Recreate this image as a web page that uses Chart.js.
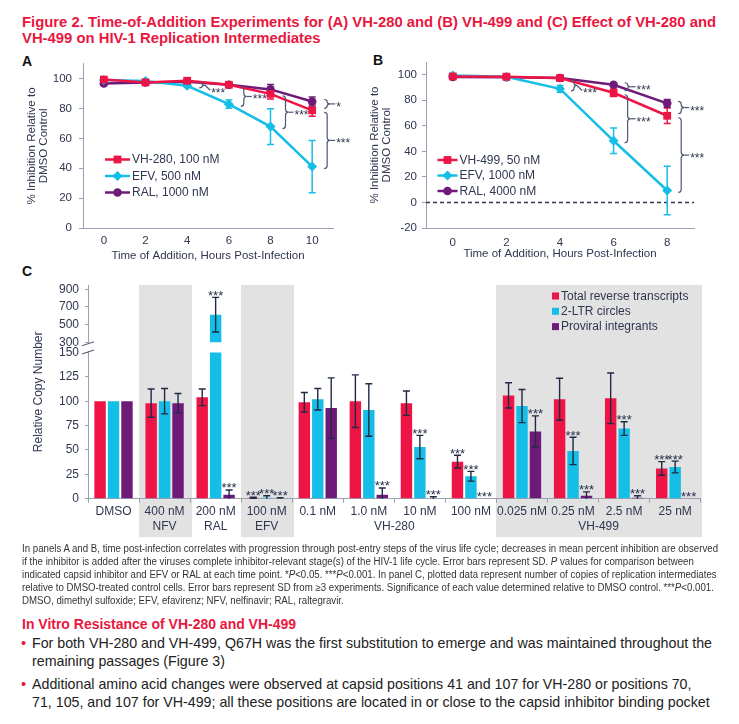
<!DOCTYPE html>
<html><head><meta charset="utf-8">
<script src="https://cdn.jsdelivr.net/npm/chart.js@4/dist/chart.umd.min.js"></script>
<style>
html,body{margin:0;padding:0;background:#fff;}
body{width:739px;height:724px;position:relative;overflow:hidden;font-family:'Liberation Sans',Arial,sans-serif;}
.abs{position:absolute;white-space:nowrap;}
.ln{display:inline-block;transform-origin:0 50%;}
.ttl{left:22px;color:#e8173f;font-weight:bold;font-size:14.5px;line-height:16.3px;}
.plabel{font-weight:bold;font-size:14px;line-height:16px;color:#111;}
.narrow{font-family:'Liberation Sans Narrow','Arial Narrow','Liberation Sans',Arial,sans-serif;}
.foot{left:22px;font-size:10px;line-height:13px;color:#333;}
.h2{left:22px;font-size:14.5px;line-height:17px;font-weight:bold;color:#e8173f;}
.bul{left:32px;font-size:14.5px;line-height:17px;color:#222;}
.dot{left:21px;font-size:14.5px;line-height:17px;color:#e8173f;}
.cbox{position:absolute;}
</style></head><body>

<div class="abs ttl" style="top:13.8px"><span class="ln tl">Figure 2. Time-of-Addition Experiments for (A) VH-280 and (B) VH-499 and (C) Effect of VH-280 and</span></div>
<div class="abs ttl" style="top:30.1px"><span class="ln tl">VH-499 on HIV-1 Replication Intermediates</span></div>

<div class="abs plabel" style="left:22px;top:53px">A</div>
<div class="abs plabel" style="left:373px;top:52px">B</div>
<div class="abs plabel" style="left:22px;top:263px">C</div>

<div class="cbox" style="left:0;top:50px;width:360px;height:215px"><canvas id="cA" width="360" height="215"></canvas></div>
<div class="cbox" style="left:360px;top:50px;width:379px;height:215px"><canvas id="cB" width="379" height="215"></canvas></div>
<div class="cbox" style="left:0;top:270px;width:739px;height:275px"><canvas id="cC" width="739" height="275"></canvas></div>

<div class="abs foot narrow" style="top:541.6px"><span class="ln fn">In panels A and B, time post-infection correlates with progression through post-entry steps of the virus life cycle; decreases in mean percent inhibition are observed</span></div>
<div class="abs foot narrow" style="top:554.6px"><span class="ln fn">if the inhibitor is added after the viruses complete inhibitor-relevant stage(s) of the HIV-1 life cycle. Error bars represent SD. <i>P</i> values for comparison between</span></div>
<div class="abs foot narrow" style="top:567.6px"><span class="ln fn">indicated capsid inhibitor and EFV or RAL at each time point. *<i>P</i>&lt;0.05. ***<i>P</i>&lt;0.001. In panel C, plotted data represent number of copies of replication intermediates</span></div>
<div class="abs foot narrow" style="top:580.6px"><span class="ln fn">relative to DMSO-treated control cells. Error bars represent SD from ≥3 experiments. Significance of each value determined relative to DMSO control. ***<i>P</i>&lt;0.001.</span></div>
<div class="abs foot narrow" style="top:593.6px"><span class="ln fn">DMSO, dimethyl sulfoxide; EFV, efavirenz; NFV, nelfinavir; RAL, raltegravir.</span></div>

<div class="abs h2 narrow" style="top:616px"><span class="ln hd">In Vitro Resistance of VH-280 and VH-499</span></div>
<div class="abs dot" style="top:635.3px">•</div>
<div class="abs bul narrow" style="top:635.3px"><span class="ln bl">For both VH-280 and VH-499, Q67H was the first substitution to emerge and was maintained throughout the</span></div>
<div class="abs bul narrow" style="top:653.3px"><span class="ln bl">remaining passages (Figure 3)</span></div>
<div class="abs dot" style="top:676.3px">•</div>
<div class="abs bul narrow" style="top:676.3px"><span class="ln bl">Additional amino acid changes were observed at capsid positions 41 and 107 for VH-280 or positions 70,</span></div>
<div class="abs bul narrow" style="top:694.3px"><span class="ln bl">71, 105, and 107 for VH-499; all these positions are located in or close to the capsid inhibitor binding pocket</span></div>

<script>
// ---------------- DATA ----------------
// Panel A: % inhibition vs time of addition (h)
const timesA = [0, 2, 4, 6, 8, 10];
const vh280A = [99.5, 97.6, 98.7, 96.0, 89.9, 78.9];
const vh280A_sd = [1, 1, 1, 1.2, 3.5, 4];
const efvA = [99.2, 98.5, 95.3, 83.0, 68.0, 41.2];
const efvA_sd = [1, 1, 1, 2.8, 12, 17.5];
const ralA = [96.9, 97.6, 98.0, 96.0, 92.9, 84.8];
const ralA_sd = [1, 1, 1, 1, 3.3, 3];
const xTicksA = [0, 2, 4, 6, 8, 10];
const yTicksA = [0, 20, 40, 60, 80, 100];
// significance: [time, compared dataset index, label, dropped label]
const sigA = [[4, 1, '***', true], [6, 1, '***'], [8, 1, '***'], [10, 2, '*'], [10, 1, '***']];

// Panel B
const timesB = [0, 2, 4, 6, 8];
const vh499B = [98.7, 98.5, 97.4, 85.9, 67.9];
const vh499B_sd = [1, 1, 1.5, 3, 6];
const efvB = [99.5, 98.5, 89.0, 48.3, 9.4];
const efvB_sd = [1, 1, 2.6, 10, 19];
const ralB = [98.2, 98.0, 97.5, 92.2, 77.6];
const ralB_sd = [1, 1, 1, 1.5, 3];
const xTicksB = [0, 2, 4, 6, 8];
const yTicksB = [-20, 0, 20, 40, 60, 80, 100];
const sigB = [[4, 1, '***', true], [6, 2, '***'], [6, 1, '***'], [8, 2, '***'], [8, 1, '***']];

// Panel C: relative copy number
const groupsC = ['DMSO', ['400 nM', 'NFV'], ['200 nM', 'RAL'], ['100 nM', 'EFV'], '0.1 nM', '1.0 nM', '10 nM', '100 nM', '0.025 nM', '0.25 nM', '2.5 nM', '25 nM'];
const totalRT = [100, 98, 104, 1, 99, 100, 98, 38, 106, 102, 103, 31];
const totalRT_sd = [0, 14.5, 8.5, 0.5, 10, 27, 12.5, 6.5, 13, 21.5, 26, 7];
const ltr2 = [100, 100, 613, 1, 102, 91, 53, 23, 95, 49, 72, 32.5];
const ltr2_sd = [0, 13, 196, 2, 11, 27, 12, 5, 17, 14, 7, 6];
const proviral = [100, 98, 4, 0.5, 93, 4, 0.5, 0, 69, 3, 1, 0];
const proviral_sd = [0, 10, 5, 0.5, 31, 7, 1.5, 0, 16, 4, 2, 0];
const totalRT_sig = ['', '', '', '***', '', '', '', '***', '', '', '', '***'];
const ltr2_sig = ['', '', '***', '***', '', '', '***', '***', '', '***', '***', '***'];
const proviral_sig = ['', '', '***', '***', '', '***', '***', '***', '***', '***', '***', '***'];
const yTicksC = [0, 25, 50, 75, 100, 125, 150, 300, 500, 700, 900];
const shadedGroups = [1, 3, 8, 9, 10, 11];
const groupTitles = [['VH-280', 4, 7], ['VH-499', 8, 11]];

// ---------------- STYLE ----------------
const RED = '#ee1446', CYAN = '#14bee6', PURPLE = '#6e1a78';
const AXIS = '#9aa2b2', TXT = '#2f3650', DARK = '#1f2a44', BRK = '#4d5874';
const FONT = "'Liberation Sans', Arial, sans-serif";
Chart.defaults.font.family = FONT;
Chart.defaults.font.size = 11.5;
Chart.defaults.color = TXT;
Chart.defaults.animation = false;
Chart.defaults.events = [];
Chart.defaults.plugins.legend.display = false;
Chart.defaults.plugins.tooltip.enabled = false;

// ---------------- broken axis scale ----------------
const GAP_UNITS = 10.5, UPPER_K = 0.0905, BR_LO = 150, BR_HI = 300;
function warp(v) {
  if (v <= BR_LO) return v;
  if (v < BR_HI) return BR_LO + (v - BR_LO) / (BR_HI - BR_LO) * GAP_UNITS;
  return BR_LO + GAP_UNITS + (v - BR_HI) * UPPER_K;
}
function unwarp(w) {
  if (w <= BR_LO) return w;
  if (w < BR_LO + GAP_UNITS) return BR_LO + (w - BR_LO) / GAP_UNITS * (BR_HI - BR_LO);
  return BR_HI + (w - BR_LO - GAP_UNITS) / UPPER_K;
}
class BrokenLinearScale extends Chart.LinearScale {
  getPixelForValue(value) {
    const a = warp(this.min), b = warp(this.max);
    return this.getPixelForDecimal((warp(value) - a) / (b - a));
  }
  getValueForPixel(pixel) {
    const a = warp(this.min), b = warp(this.max);
    return unwarp(a + this.getDecimalForPixel(pixel) * (b - a));
  }
}
BrokenLinearScale.id = 'brokenLinear';
BrokenLinearScale.defaults = {};
Chart.register(BrokenLinearScale);

// ---------------- plugins ----------------
const errorBarsLine = {
  id: 'errorBarsLine',
  beforeDatasetsDraw(chart) {
    const {ctx, scales: {x, y}} = chart;
    ctx.save();
    chart.data.datasets.forEach(ds => {
      ctx.strokeStyle = ds.borderColor; ctx.lineWidth = 1.5;
      ds.data.forEach((p, i) => {
        const sd = ds.sd[i]; if (!sd) return;
        const px = x.getPixelForValue(p.x), y1 = y.getPixelForValue(p.y + sd), y2 = y.getPixelForValue(p.y - sd);
        ctx.beginPath();
        ctx.moveTo(px, y1); ctx.lineTo(px, y2);
        ctx.moveTo(px - 3.5, y1); ctx.lineTo(px + 3.5, y1);
        ctx.moveTo(px - 3.5, y2); ctx.lineTo(px + 3.5, y2);
        ctx.stroke();
      });
    });
    ctx.restore();
  }
};

function brace(ctx, x, ya, yb, w) {
  const y1 = Math.min(ya, yb), y2 = Math.max(ya, yb), ym = (y1 + y2) / 2;
  const r = Math.min(3, (y2 - y1) / 4), h = w / 2;
  ctx.beginPath();
  ctx.moveTo(x, y1);
  ctx.quadraticCurveTo(x + h, y1, x + h, y1 + r);
  ctx.lineTo(x + h, ym - r);
  ctx.quadraticCurveTo(x + h, ym, x + w, ym);
  ctx.quadraticCurveTo(x + h, ym, x + h, ym + r);
  ctx.lineTo(x + h, y2 - r);
  ctx.quadraticCurveTo(x + h, y2, x, y2);
  ctx.stroke();
  return ym;
}

const sigBrackets = {
  id: 'sigBrackets',
  afterDatasetsDraw(chart, _a, o) {
    const {ctx, scales: {x, y}} = chart;
    const dsets = chart.data.datasets;
    ctx.save();
    ctx.strokeStyle = BRK; ctx.lineWidth = 1.2;
    ctx.fillStyle = TXT; ctx.font = '12px ' + FONT; ctx.textBaseline = 'alphabetic'; ctx.textAlign = 'left';
    o.items.forEach(([t, other, label, drop]) => {
      const v0 = dsets[0].data.find(p => p.x === t).y;
      const v1 = dsets[other].data.find(p => p.x === t).y;
      const p0 = y.getPixelForValue(v0), p1 = y.getPixelForValue(v1);
      const dir = Math.sign(p1 - p0);
      const bx = x.getPixelForValue(t) + o.dx;
      const ym = brace(ctx, bx, p0 + 2 * dir, p1 + 2 * dir, 6);
      const nx = bx + 6;
      ctx.beginPath();
      if (drop) { ctx.moveTo(nx, ym); ctx.lineTo(nx + 5, ym + 5); }
      else { ctx.moveTo(nx, ym); ctx.lineTo(nx + 5, ym); }
      ctx.stroke();
      ctx.fillText(label, nx + 6, (drop ? ym + 5 : ym) + 7);
    });
    ctx.restore();
  }
};

const lineLegend = {
  id: 'lineLegend',
  afterDraw(chart, _a, o) {
    const ctx = chart.ctx;
    ctx.save();
    chart.data.datasets.forEach((ds, i) => {
      const yy = o.y + i * o.dy;
      ctx.strokeStyle = ds.borderColor; ctx.lineWidth = 2.5;
      ctx.beginPath(); ctx.moveTo(o.x, yy); ctx.lineTo(o.x + o.len, yy); ctx.stroke();
      ctx.fillStyle = ds.pointBackgroundColor;
      Chart.helpers.drawPoint(ctx, {pointStyle: ds.pointStyle, radius: ds.pointRadius, rotation: 0, borderWidth: 0}, o.x + o.len / 2, yy);
      ctx.fillStyle = TXT; ctx.font = '12px ' + FONT; ctx.textBaseline = 'middle'; ctx.textAlign = 'left';
      ctx.fillText(ds.label, o.x + o.len + 2, yy + 0.5);
    });
    ctx.restore();
  }
};

const zeroLine = {
  id: 'zeroLine',
  beforeDatasetsDraw(chart) {
    const {ctx, chartArea: ca, scales: {y}} = chart;
    const py = Math.round(y.getPixelForValue(0)) + 0.5;
    ctx.save(); ctx.strokeStyle = '#2d3652'; ctx.lineWidth = 1.3; ctx.setLineDash([4, 3]);
    ctx.beginPath(); ctx.moveTo(ca.left, py); ctx.lineTo(ca.right, py); ctx.stroke();
    ctx.restore();
  }
};

function lineDataset(label, xs, ys, sd, color, style, radius) {
  return {
    label, data: xs.map((t, i) => ({x: t, y: ys[i]})), sd,
    borderColor: color, backgroundColor: color, pointBackgroundColor: color, pointBorderColor: color,
    pointStyle: style, pointRadius: radius, pointBorderWidth: 0, borderWidth: 2.5, tension: 0
  };
}

function lineOptions(cfg) {
  return {
    responsive: false,
    layout: {padding: cfg.pad},
    scales: {
      x: {
        type: 'linear', min: cfg.xmin, max: cfg.xmax,
        afterBuildTicks: s => { s.ticks = cfg.xticks.map(v => ({value: v})); },
        afterFit: s => { s.height = cfg.xh; },
        grid: {display: true, drawOnChartArea: false, drawTicks: false, color: AXIS},
        border: {color: AXIS, width: 1},
        ticks: {padding: cfg.xpad, font: {size: 11.5}, color: TXT},
        title: {display: true, text: 'Time of Addition, Hours Post-Infection', font: {size: 11.5}, color: TXT, padding: {top: 0, bottom: cfg.xtb}}
      },
      y: {
        min: cfg.ymin, max: 110,
        afterBuildTicks: s => { s.ticks = cfg.yticks.map(v => ({value: v})); },
        afterFit: s => { s.width = cfg.yw; },
        grid: {drawOnChartArea: false, drawTicks: true, tickLength: 4, color: AXIS},
        border: {color: AXIS, width: 1},
        ticks: {padding: cfg.ypad, font: {size: 11.5}, color: TXT},
        title: {display: true, text: ['% Inhibition Relative to', 'DMSO Control'], font: {size: 11.5, lineHeight: 1.05}, color: TXT, padding: {top: cfg.ytp, bottom: 0}}
      }
    },
    plugins: {
      lineLegend: cfg.legend,
      sigBrackets: {items: cfg.sig, dx: cfg.dx}
    }
  };
}

// ---------------- Panel A ----------------
new Chart(document.getElementById('cA'), {
  type: 'line',
  data: {datasets: [
    lineDataset('VH-280, 100 nM', timesA, vh280A, vh280A_sd, RED, 'rect', 5.5),
    lineDataset('EFV, 500 nM', timesA, efvA, efvA_sd, CYAN, 'rectRot', 5),
    lineDataset('RAL, 1000 nM', timesA, ralA, ralA_sd, PURPLE, 'circle', 4.3)
  ]},
  options: lineOptions({
    pad: {left: 22, top: 12, right: 27, bottom: 0}, xmin: -1, xmax: 11, xticks: xTicksA, yticks: yTicksA, ymin: 0,
    xh: 37, xpad: 5.5, xtb: 2, yw: 61, ypad: 7, ytp: 4,
    legend: {x: 105, y: 109.5, dy: 16.5, len: 25}, sig: sigA, dx: 12
  }),
  plugins: [errorBarsLine, sigBrackets, lineLegend]
});

// ---------------- Panel B ----------------
new Chart(document.getElementById('cB'), {
  type: 'line',
  data: {datasets: [
    lineDataset('VH-499, 50 nM', timesB, vh499B, vh499B_sd, RED, 'rect', 5.5),
    lineDataset('EFV, 1000 nM', timesB, efvB, efvB_sd, CYAN, 'rectRot', 5),
    lineDataset('RAL, 4000 nM', timesB, ralB, ralB_sd, PURPLE, 'circle', 4.3)
  ]},
  options: lineOptions({
    pad: {left: 5, top: 12, right: 45, bottom: 0}, xmin: -1, xmax: 9, xticks: xTicksB, yticks: yTicksB, ymin: -20,
    xh: 37, xpad: 7.5, xtb: 3.8, yw: 61, ypad: 5, ytp: 4,
    legend: {x: 77.5, y: 110, dy: 15.5, len: 20}, sig: sigB, dx: 11
  }),
  plugins: [zeroLine, errorBarsLine, sigBrackets, lineLegend]
});

// ---------------- Panel C ----------------
const shadePlugin = {
  id: 'shade',
  beforeDraw(chart) {
    const {ctx, chartArea: ca, scales: {x}} = chart;
    const gw = (ca.right - ca.left) / groupsC.length;
    ctx.save(); ctx.fillStyle = '#e2e2e2';
    shadedGroups.forEach(i => {
      const cx = x.getPixelForValue(i);
      ctx.fillRect(Math.floor(cx - gw / 2), ca.top, Math.ceil(gw) + 1, ca.bottom - ca.top + 38.5);
    });
    ctx.restore();
  },
  afterDraw(chart) {
    const {ctx, chartArea: ca, scales: {x, y}} = chart;
    ctx.save();
    ctx.fillStyle = TXT; ctx.font = '12px ' + FONT; ctx.textAlign = 'center'; ctx.textBaseline = 'middle';
    groupTitles.forEach(([t, a, b]) => {
      const cx = (x.getPixelForValue(a) + x.getPixelForValue(b)) / 2;
      ctx.fillText(t, cx, ca.bottom + 28);
    });
    const p150 = y.getPixelForValue(BR_LO), p300 = y.getPixelForValue(BR_HI);
    const ax = ca.left;
    ctx.fillStyle = '#fff';
    ctx.fillRect(ax - 2, p300 + 1.5, 4, p150 - p300 - 3);
    ctx.strokeStyle = '#5a6378'; ctx.lineWidth = 1.2;
    ctx.beginPath();
    ctx.moveTo(ax - 6, p300 + 3.5); ctx.lineTo(ax + 6, p300 - 0.5);
    ctx.moveTo(ax - 6, p150 + 1.5); ctx.lineTo(ax + 6, p150 - 2.5);
    ctx.stroke();
    ctx.restore();
  }
};

const barExtras = {
  id: 'barExtras',
  afterDatasetsDraw(chart) {
    const {ctx, scales: {y}} = chart;
    const p150 = y.getPixelForValue(BR_LO), p300 = y.getPixelForValue(BR_HI);
    ctx.save();
    chart.data.datasets.forEach((ds, di) => {
      const meta = chart.getDatasetMeta(di);
      meta.data.forEach((bar, i) => {
        const v = ds.data[i];
        if (v > BR_LO) {
          ctx.fillStyle = '#fff';
          ctx.fillRect(bar.x - bar.width / 2 - 0.5, p300, bar.width + 1, p150 - p300);
        }
      });
    });
    chart.data.datasets.forEach((ds, di) => {
      const meta = chart.getDatasetMeta(di);
      meta.data.forEach((bar, i) => {
        const v = ds.data[i], sd = ds.sd[i];
        if (sd > 0) {
          const y1 = y.getPixelForValue(v + sd), y2 = y.getPixelForValue(Math.max(v - sd, 0));
          ctx.strokeStyle = DARK; ctx.lineWidth = 1.4;
          ctx.beginPath();
          ctx.moveTo(bar.x, y1); ctx.lineTo(bar.x, y2);
          ctx.moveTo(bar.x - 3.5, y1); ctx.lineTo(bar.x + 3.5, y1);
          if (v - sd > 0) { ctx.moveTo(bar.x - 3.5, y2); ctx.lineTo(bar.x + 3.5, y2); }
          ctx.stroke();
        }
        if (ds.sig[i]) {
          ctx.fillStyle = DARK; ctx.font = '13px ' + FONT; ctx.textAlign = 'center'; ctx.textBaseline = 'alphabetic';
          ctx.fillText(ds.sig[i], bar.x, y.getPixelForValue(v + sd) + 2.5);
        }
      });
    });
    ctx.restore();
  }
};

const barLegend = {
  id: 'barLegend',
  afterDraw(chart, _a, o) {
    const ctx = chart.ctx;
    ctx.save();
    chart.data.datasets.forEach((ds, i) => {
      const yy = o.y + i * o.dy;
      ctx.fillStyle = ds.backgroundColor;
      ctx.fillRect(o.x, yy - 3.5, 7, 7);
      ctx.fillStyle = TXT; ctx.font = '12px ' + FONT; ctx.textAlign = 'left'; ctx.textBaseline = 'middle';
      ctx.fillText(ds.label, o.x + 9, yy + 0.5);
    });
    ctx.restore();
  }
};

function barDataset(label, data, sd, sig, color) {
  return {label, data, sd, sig, backgroundColor: color, borderWidth: 0, categoryPercentage: 0.79, barPercentage: 0.85};
}

new Chart(document.getElementById('cC'), {
  type: 'bar',
  data: {
    labels: groupsC,
    datasets: [
      barDataset('Total reverse transcripts', totalRT, totalRT_sd, totalRT_sig, RED),
      barDataset('2-LTR circles', ltr2, ltr2_sd, ltr2_sig, CYAN),
      barDataset('Proviral integrants', proviral, proviral_sd, proviral_sig, PURPLE)
    ]
  },
  options: {
    responsive: false,
    layout: {padding: {left: 26, top: 15, right: 38.3, bottom: 0}},
    scales: {
      x: {
        afterFit: s => { s.height = 46.3; },
        grid: {display: true, drawOnChartArea: false, drawTicks: true, tickLength: 4, color: AXIS, offset: true},
        border: {color: AXIS, width: 1},
        ticks: {padding: 1.5, font: {size: 12, lineHeight: 1.25}, color: TXT, maxRotation: 0, autoSkip: false}
      },
      y: {
        type: 'brokenLinear', min: 0, max: 949,
        afterBuildTicks: s => { s.ticks = yTicksC.map(v => ({value: v})); },
        afterFit: s => { s.width = 62; },
        grid: {drawOnChartArea: false, drawTicks: true, tickLength: 3, color: AXIS},
        border: {color: AXIS, width: 1},
        ticks: {padding: 6, font: {size: 12}, color: TXT},
        title: {display: true, text: 'Relative Copy Number', font: {size: 12}, color: TXT, padding: {top: 5, bottom: 0}}
      }
    },
    plugins: {barLegend: {x: 552, y: 26, dy: 15.3}}
  },
  plugins: [shadePlugin, barExtras, barLegend]
});

// ---------------- fit text widths ----------------
function fitBlock(cls, refIdx, target) {
  const els = document.querySelectorAll('.' + cls);
  const w = els[refIdx].getBoundingClientRect().width;
  const s = target / w;
  els.forEach(e => { e.style.transform = 'scaleX(' + s.toFixed(4) + ')'; });
}
fitBlock('tl', 0, 694);
fitBlock('fn', 0, 696);
fitBlock('hd', 0, 274);
fitBlock('bl', 0, 680);
</script>
</body></html>
